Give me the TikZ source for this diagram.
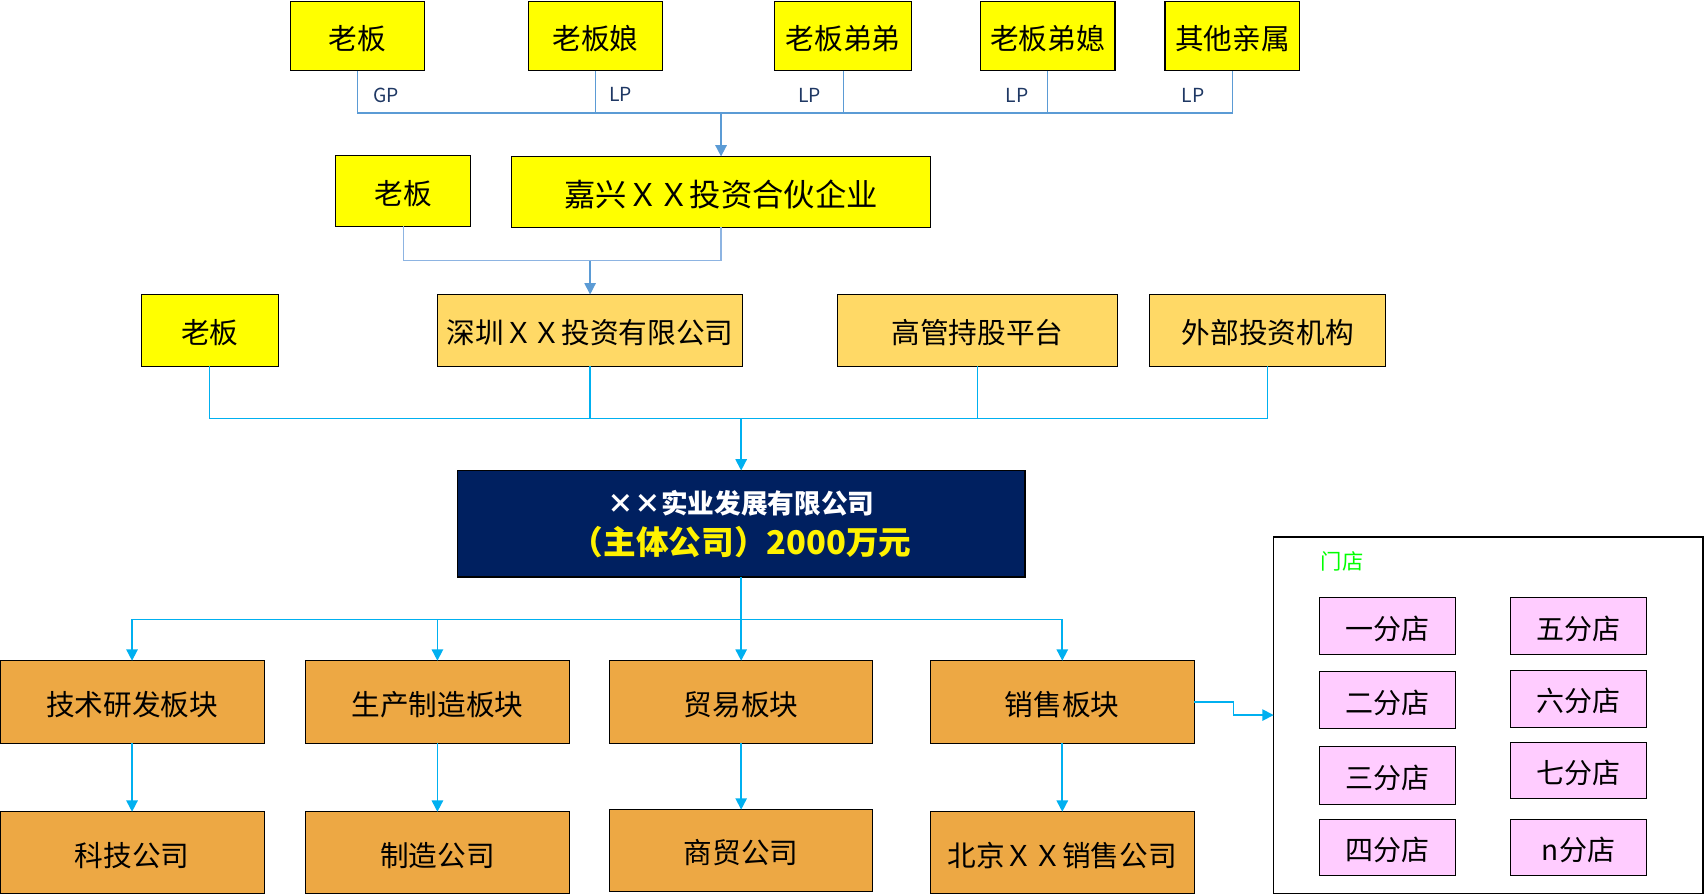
\documentclass[tikz,border=0pt]{standalone}
\usepackage{fontspec}
\setmainfont{Noto Sans CJK SC}
\usetikzlibrary{arrows.meta}
\definecolor{cyel}{HTML}{FFFF00}
\definecolor{cgold}{HTML}{FFD966}
\definecolor{corg}{HTML}{EDA844}
\definecolor{cnavy}{HTML}{002060}
\definecolor{cpink}{HTML}{FFCCFF}
\definecolor{lineA}{HTML}{5B9BD5}
\definecolor{lineB}{HTML}{8DB4E2}
\definecolor{lineC}{HTML}{00B0F0}
\definecolor{cgreen}{HTML}{00FF00}
\definecolor{clab}{HTML}{1F3864}
\newcommand\bx[7]{\node[#6, minimum width={(#4-#2)*0.815pt}, minimum height={(#5-#3)*0.815pt}] (#1) at ({(#2+#4)/2},{(#3+#5)/2}) {\raisebox{-2pt}[\height][\depth]{#7}};}
\begin{document}
\begin{tikzpicture}[x=0.815pt,y=-0.815pt,
  box/.style={draw=black, line width=0.8pt, inner sep=0pt, outer sep=0pt, text=black, font=\fontsize{21.5}{26}\selectfont},
  ybox/.style={box, fill=cyel},
  gbox/.style={box, fill=cgold},
  obox/.style={box, fill=corg},
  pbox/.style={box, fill=cpink, line width=0.7pt, font=\fontsize{21}{25}\selectfont},
  lab/.style={text=clab, inner sep=0pt, font=\fontsize{14.5}{16}\selectfont},
  lA/.style={draw=lineA, line width=1pt},
  lB/.style={draw=lineB, line width=0.9pt},
  lC/.style={draw=lineC, line width=1pt},
  tip/.style={-{Triangle[width=8.5pt,length=8.5pt]}},
  arrA/.style={lA, line width=1.3pt, tip},
  arrB/.style={draw=lineA, line width=1pt, tip},
  arrC/.style={lC, line width=1.3pt, tip}
]
\useasboundingbox (0,0) rectangle (1568,824);
% row 1
\bx{a1}{267}{1}{391}{65}{ybox}{老板}
\bx{a2}{486}{1}{610}{65}{ybox}{老板娘}
\bx{a3}{713}{1}{839}{65}{ybox}{老板弟弟}
\bx{a4}{902}{1}{1026}{65}{ybox}{老板弟媳}
\bx{a5}{1072}{1}{1196}{65}{ybox}{其他亲属}
% row 2
\bx{b1}{309}{143}{433}{208}{ybox}{老板}
\bx{b2}{471}{144}{856}{209}{ybox, font=\fontsize{23.5}{28}\selectfont}{嘉兴ＸＸ投资合伙企业}
% row 3
\bx{c1}{130}{271}{256}{337}{ybox}{老板}
\bx{c2}{403}{271}{683}{337}{gbox}{深圳ＸＸ投资有限公司}
\bx{c3}{771}{271}{1028}{337}{gbox}{高管持股平台}
\bx{c4}{1058}{271}{1275}{337}{gbox}{外部投资机构}
% main
\node[box, fill=cnavy, line width=1.2pt, align=center, minimum width={522*0.815pt}, minimum height={98*0.815pt}] (m) at (682,482) {{\fontsize{20}{24}\selectfont\bfseries\color{white}××实业发展有限公司}\\[5pt]{\fontsize{24.5}{30}\selectfont\bfseries\color{yellow}（主体公司）2000万元}};
% row 4
\bx{d1}{0}{608}{243}{684}{obox}{技术研发板块}
\bx{d2}{281}{608}{524}{684}{obox}{生产制造板块}
\bx{d3}{561}{608}{803}{684}{obox}{贸易板块}
\bx{d4}{856}{608}{1099}{684}{obox}{销售板块}
% row 5
\bx{e1}{0}{747}{243}{822}{obox}{科技公司}
\bx{e2}{281}{747}{524}{822}{obox}{制造公司}
\bx{e3}{561}{745}{803}{820}{obox}{商贸公司}
\bx{e4}{856}{747}{1099}{822}{obox}{北京ＸＸ销售公司}
% stores
\node[box, fill=white, line width=1pt, minimum width={395*0.815pt}, minimum height={328*0.815pt}] (s) at (1369.5,658) {};
\node[text=cgreen, inner sep=0pt, font=\fontsize{16}{18}\selectfont] (st) at (1235,517) {门店};
\bx{s1}{1214}{550}{1339}{602}{pbox}{一分店}
\bx{s2}{1214}{618}{1339}{670}{pbox}{二分店}
\bx{s3}{1214}{687}{1339}{740}{pbox}{三分店}
\bx{s4}{1214}{754}{1339}{806}{pbox}{四分店}
\bx{s5}{1390}{550}{1515}{602}{pbox}{五分店}
\bx{s6}{1390}{617}{1515}{669}{pbox}{六分店}
\bx{s7}{1390}{683}{1515}{735}{pbox}{七分店}
\bx{s8}{1390}{754}{1515}{806}{pbox}{n分店}
% labels
\node[lab] (l1) at (355,88) {GP};
\node[lab] (l2) at (571,87) {LP};
\node[lab] (l3) at (745,88) {LP};
\node[lab] (l4) at (936,88) {LP};
\node[lab] (l5) at (1098,88) {LP};
% top connectors
\coordinate (j1) at (663.5,104);
\draw[lA] (a1.south) |- (a5.south |- j1) -- (a5.south);
\draw[lA] (a2.south) -- (a2.south |- j1);
\draw[lA] (a3.south) -- (a3.south |- j1);
\draw[lA] (a4.south) -- (a4.south |- j1);
\draw[arrA] (j1) -- (j1 |- b2.north);
% second connectors
\coordinate (j2) at (543,240);
\draw[lB] (b1.south) |- (b2.south |- j2) -- (b2.south);
\draw[arrB] (j2) -- (j2 |- c2.north);
% third connectors
\coordinate (j3) at (682,385);
\draw[lC] (c1.south) |- (c4.south |- j3) -- (c4.south);
\draw[lC] (c2.south) -- (c2.south |- j3);
\draw[lC] (c3.south) -- (c3.south |- j3);
\draw[arrC] (j3) -- (j3 |- m.north);
% bottom connectors
\coordinate (j4) at (682,570);
\draw[lC] (m.south) -- (j4);
\draw[lC] (d1.north |- j4) -- (d4.north |- j4);
\draw[arrC] (d1.north |- j4) -- (d1.north);
\draw[arrC] (d2.north |- j4) -- (d2.north);
\draw[arrC] (j4) -- (j4 |- d3.north);
\draw[arrC] (d4.north |- j4) -- (d4.north);
\draw[arrC] (d1.south) -- (e1.north);
\draw[arrC] (d2.south) -- (e2.north);
\draw[arrC] (d3.south) -- (d3.south |- e3.north);
\draw[arrC] (d4.south) -- (e4.north);
\draw[arrC] (d4.east) -- ++(36,0) |- (s.west);
\end{tikzpicture}
\end{document}
